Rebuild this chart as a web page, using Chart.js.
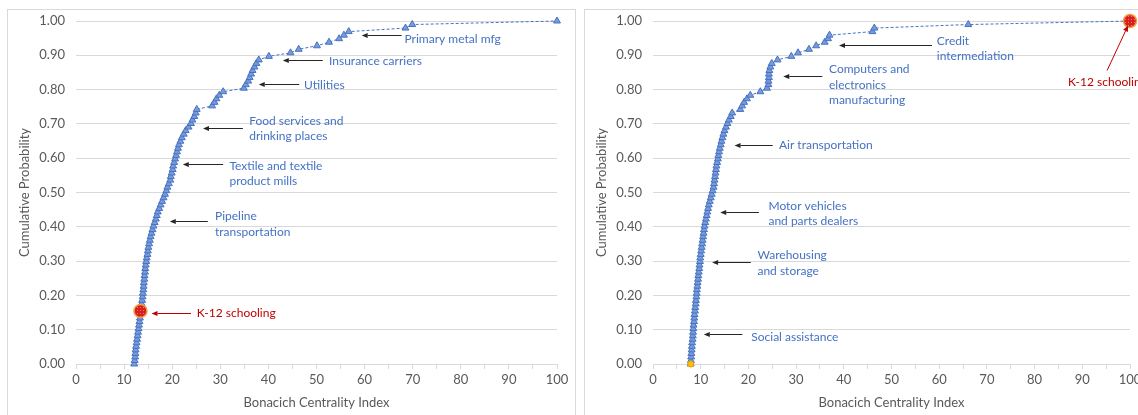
<!DOCTYPE html>
<html><head><meta charset="utf-8">
<script src="https://cdn.jsdelivr.net/npm/chart.js@4.4.1/dist/chart.umd.min.js"></script>
<style>
html,body{margin:0;padding:0;background:#fff;overflow:hidden;width:1138px;height:415px}
.panel{position:absolute;top:9px;height:430px;border:1px solid #d9d9d9;box-sizing:border-box}
#p1{left:7px;width:569px}
#p2{left:584px;width:600px}
canvas{position:absolute}
#c1{left:7px;top:9px}
#c2{left:584px;top:9px}
</style></head><body>
<div class="panel" id="p1"></div>
<div class="panel" id="p2"></div>
<canvas id="c1" width="568" height="406"></canvas>
<canvas id="c2" width="554" height="406"></canvas>
<script>
// ---- data (sorted Bonacich centrality index values, one per industry) ----
const leftCentrality = [
 12.1,12.2,12.3,12.35,12.4,12.5,12.6,12.7,12.8,12.9,
 13.0,13.1,13.2,13.3,13.35,13.4,13.55,13.65,13.75,13.85,
 13.9,14.0,14.05,14.1,14.2,14.25,14.35,14.4,14.5,14.6,
 14.7,14.85,14.95,15.05,15.2,15.35,15.5,15.7,15.9,16.1,
 16.35,16.6,16.8,17.0,17.3,17.6,17.9,18.2,18.5,18.8,
 19.0,19.3,19.6,19.7,19.9,20.1,20.2,20.4,20.6,20.8,
 21.0,21.2,21.4,21.7,22.0,22.4,22.8,23.4,23.9,24.2,
 24.6,24.9,25.1,28.3,28.8,29.2,29.8,30.6,34.9,35.3,
 35.8,36.1,36.4,36.7,37.1,37.5,38.0,40.1,44.6,46.3,
 50.1,52.6,54.7,55.7,56.7,68.5,69.9,100
];
const rightCentrality = [
 7.9,7.95,8.0,8.05,8.1,8.15,8.2,8.3,8.35,8.4,
 8.45,8.5,8.6,8.65,8.7,8.8,8.85,8.95,9.0,9.1,
 9.15,9.2,9.3,9.35,9.45,9.5,9.6,9.7,9.75,9.85,
 9.9,10.0,10.1,10.2,10.3,10.4,10.5,10.6,10.7,10.8,
 10.95,11.1,11.25,11.4,11.55,11.7,11.9,12.1,12.3,12.5,
 12.7,12.8,12.9,13.0,13.1,13.2,13.3,13.45,13.6,13.7,
 13.85,14.0,14.2,14.35,14.55,14.75,15.0,15.3,15.6,15.9,
 16.3,16.6,18.3,18.7,19.1,19.7,20.4,22.5,23.9,24.2,
 24.2,24.3,24.3,24.4,24.6,24.9,26.1,29.0,30.4,32.7,
 34.2,36.0,36.7,37.0,46.0,46.4,66.1,100
];
const leftK12Index = 15;      // K-12 schooling, left panel
const rightK12Index = 97;     // K-12 schooling, right panel
const rightFirstIndex = 0;    // lowest industry, right panel (yellow marker)
const xTickValues = [0,10,20,30,40,50,60,70,80,90,100];
const yTickLabels = ['0.00','0.10','0.20','0.30','0.40','0.50','0.60','0.70','0.80','0.90','1.00'];

// empirical cumulative probability by rank
function ecdf(arr){ return arr.map((v,i)=>({x:v, y:i/(arr.length-1)})); }

const leftNotes = [
 {lines:['Primary metal mfg'], tx:68.3, ty:0.947, arrow:[67.7,0.959,59.4,0.959]},
 {lines:['Insurance carriers'], tx:52.6, ty:0.883, arrow:[51.3,0.886,43.0,0.886]},
 {lines:['Utilities'], tx:47.4, ty:0.813, arrow:[46.4,0.815,38.0,0.815]},
 {lines:['Food services and','drinking places'], tx:36.0, ty:0.708, arrow:[34.7,0.689,26.4,0.689]},
 {lines:['Textile and textile','product mills'], tx:31.9, ty:0.578, arrow:[30.6,0.582,22.2,0.582]},
 {lines:['Pipeline','transportation'], tx:28.9, ty:0.430, arrow:[27.4,0.418,19.5,0.418]},
 {lines:['K-12 schooling'], tx:25.1, ty:0.148, arrow:[23.9,0.148,15.7,0.148], red:true}
];
const rightNotes = [
 {lines:['Credit','intermediation'], tx:59.5, ty:0.942, arrow:[58.5,0.930,39.0,0.930]},
 {lines:['Computers and','electronics','manufacturing'], tx:36.9, ty:0.859, arrow:[35.5,0.840,27.3,0.840]},
 {lines:['Air transportation'], tx:26.4, ty:0.638, arrow:[25.1,0.638,17.1,0.638]},
 {lines:['Motor vehicles','and parts dealers'], tx:24.2, ty:0.460, arrow:[22.2,0.444,14.1,0.444]},
 {lines:['Warehousing','and storage'], tx:21.9, ty:0.316, arrow:[20.5,0.296,12.4,0.296]},
 {lines:['Social assistance'], tx:20.6, ty:0.079, arrow:[18.75,0.087,10.65,0.087]},
 {lines:['K-12 schooling'], tx:87.0, ty:0.823, arrow:[95.2,0.857,99.6,0.988], red:true}
];

const FONT = 'Lato, "Liberation Sans", sans-serif';
const BLUE = '#4472c4';
const RED = '#c00000';

function dotPattern(){
  const c = document.createElement('canvas'); c.width=3; c.height=3;
  const g = c.getContext('2d');
  g.fillStyle='#d81e1e'; g.fillRect(0,0,3,3);
  g.fillStyle='#f07a6a'; g.fillRect(1,1,1,1);
  return g.createPattern(c,'repeat');
}

function drawArrow(ctx,x1,y1,x2,y2,color){
  ctx.strokeStyle=color; ctx.fillStyle=color; ctx.lineWidth=1;
  const ang=Math.atan2(y2-y1,x2-x1), L=6, W=2.6;
  const bx=x2-L*Math.cos(ang), by=y2-L*Math.sin(ang);
  ctx.beginPath(); ctx.moveTo(x1,y1); ctx.lineTo(bx,by); ctx.stroke();
  ctx.beginPath(); ctx.moveTo(x2,y2);
  ctx.lineTo(bx+W*Math.sin(ang), by-W*Math.cos(ang));
  ctx.lineTo(bx-W*Math.sin(ang), by+W*Math.cos(ang));
  ctx.closePath(); ctx.fill();
}

const notesPlugin = {
  id:'notes',
  afterDatasetsDraw(chart, args, opts){
    const {ctx} = chart, xs = chart.scales.x, ys = chart.scales.y;
    ctx.save();
    for(const n of opts.items||[]){
      const a=n.arrow;
      drawArrow(ctx, xs.getPixelForValue(a[0]), Math.round(ys.getPixelForValue(a[1]))+0.5,
                     xs.getPixelForValue(a[2]), Math.round(ys.getPixelForValue(a[3]))+0.5,
                     n.red?RED:'#262626');
      ctx.fillStyle = n.red?RED:BLUE;
      ctx.font = '12px '+FONT;
      ctx.textAlign='left'; ctx.textBaseline='middle';
      const px=xs.getPixelForValue(n.tx), py=ys.getPixelForValue(n.ty);
      n.lines.forEach((t,i)=>ctx.fillText(t,px,py+i*15.3));
    }
    ctx.restore();
  }
};

function makeChart(id, values, hiIdx, notes, extra, rightPad){
  const pts = ecdf(values);
  const datasets = [
    {data:[pts[hiIdx]], pointStyle:'circle', pointRadius:6.5, pointBackgroundColor:dotPattern(),
     pointBorderColor:'#f0a040', pointBorderWidth:1.5, showLine:false, order:0, clip:false},
    {data:pts, showLine:true, borderColor:BLUE, borderWidth:1, borderDash:[3,2],
     pointStyle:'triangle', pointRadius:4, pointBackgroundColor:'#7b9bd6',
     pointBorderColor:BLUE, pointBorderWidth:1, order:2, clip:false}
  ];
  if(extra!=null){
    datasets.push({data:[pts[extra]], pointStyle:'circle', pointRadius:3, pointBackgroundColor:'#ffc000',
      pointBorderColor:'#ed9d00', pointBorderWidth:1, showLine:false, order:1, clip:false});
  }
  return new Chart(document.getElementById(id), {
    type:'scatter',
    data:{datasets},
    options:{
      responsive:false, animation:false, devicePixelRatio:1,
      layout:{padding:{left:10, right:rightPad, top:12, bottom:0}},
      plugins:{legend:{display:false}, tooltip:{enabled:false}, notes:{items:notes}},
      scales:{
        x:{type:'linear', min:0, max:100,
           afterBuildTicks(s){ const t=[]; for(const v of xTickValues){ t.push({value:v}); if(v<100) t.push({value:v+5}); } s.ticks=t; },
           afterFit(s){ s.height=51; s.paddingLeft=0; s.paddingRight=0; },
           ticks:{autoSkip:false, maxRotation:0, padding:3, color:'#595959', font:{family:FONT,size:13},
             callback:(v)=> xTickValues.includes(v)? String(v):''},
           grid:{drawOnChartArea:false, drawTicks:true, tickLength:5, color:'#d9d9d9'},
           border:{display:true, color:'#d9d9d9'},
           title:{display:true, text:'Bonacich Centrality Index', color:'#595959', font:{family:FONT,size:13}, padding:{top:2,bottom:4}}
        },
        y:{min:0, max:1,
           afterBuildTicks(s){ s.ticks = yTickLabels.map(l=>({value:parseFloat(l)})); },
           afterFit(s){ s.width=59; s.paddingTop=0; s.paddingBottom=0; },
           ticks:{padding:11, color:'#595959', font:{family:FONT,size:13},
             callback:(v)=> yTickLabels[Math.round(v*10)]},
           grid:{drawTicks:false, color:'#d9d9d9'},
           border:{display:false},
           title:{display:true, text:'Cumulative Probability', color:'#595959', font:{family:FONT,size:13}, padding:{top:0,bottom:0}}
        }
      }
    },
    plugins:[notesPlugin]
  });
}

makeChart('c1', leftCentrality, leftK12Index, leftNotes, null, 18);
makeChart('c2', rightCentrality, rightK12Index, rightNotes, rightFirstIndex, 5);
</script>
</body></html>
